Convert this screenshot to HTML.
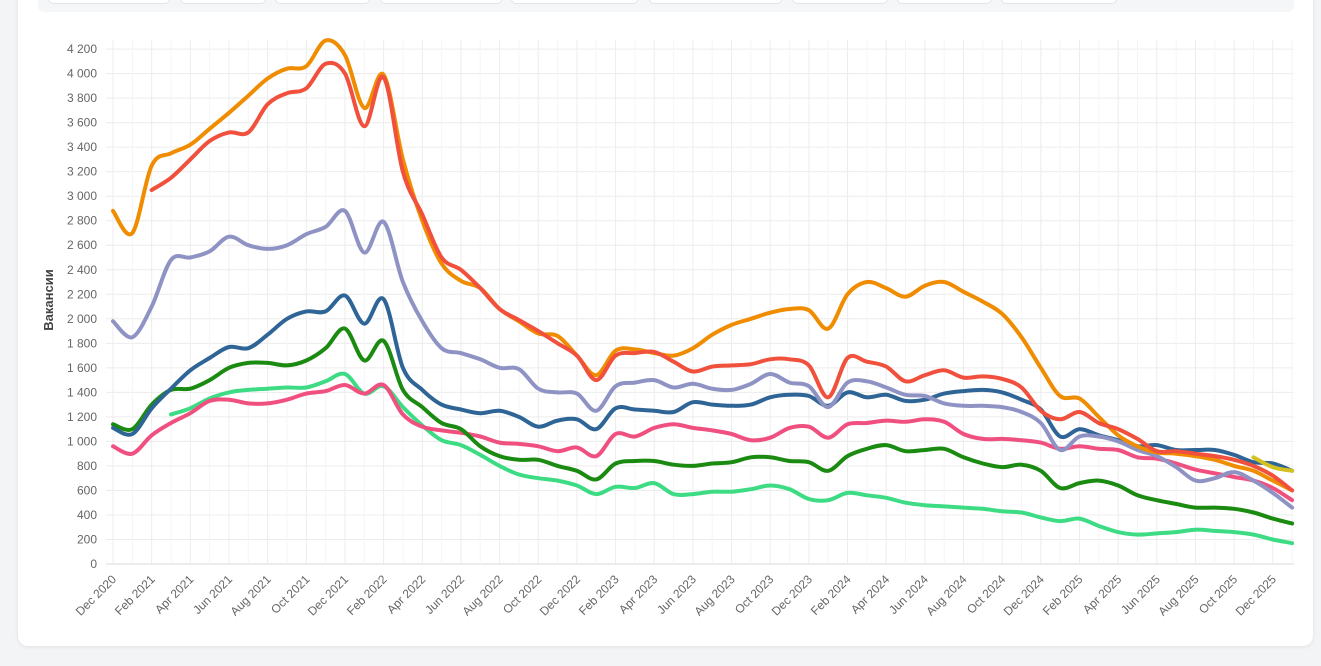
<!DOCTYPE html>
<html><head><meta charset="utf-8"><style>
body{margin:0;width:1321px;height:666px;background:#f3f4f6;font-family:"Liberation Sans",sans-serif;overflow:hidden;position:relative}
.card{position:absolute;left:18px;top:-20px;width:1295px;height:666px;background:#fff;border-radius:10px;box-shadow:0 1px 4px rgba(0,0,0,.08)}
.filters{position:absolute;left:38px;top:0;width:1256px;height:12px;background:#f5f6f8;border-radius:0 0 6px 6px}
.btn{position:absolute;top:-6px;height:8px;background:#fff;border:1px solid #e2e4e8;border-radius:5px}
svg{position:absolute;left:0;top:0}
</style></head><body>
<div class="card"></div>
<div class="filters">
<div class="btn" style="left:10px;width:120px"></div>
<div class="btn" style="left:142px;width:84px"></div>
<div class="btn" style="left:237px;width:93px"></div>
<div class="btn" style="left:342px;width:120px"></div>
<div class="btn" style="left:473px;width:125px"></div>
<div class="btn" style="left:611px;width:131px"></div>
<div class="btn" style="left:754px;width:94px"></div>
<div class="btn" style="left:859px;width:93px"></div>
<div class="btn" style="left:963px;width:114px"></div>
</div>
<svg id="chart" width="1321" height="666"></svg>
<script>
const months=["Dec 2020","Jan 2021","Feb 2021","Mar 2021","Apr 2021","May 2021","Jun 2021","Jul 2021","Aug 2021","Sep 2021","Oct 2021","Nov 2021","Dec 2021","Jan 2022","Feb 2022","Mar 2022","Apr 2022","May 2022","Jun 2022","Jul 2022","Aug 2022","Sep 2022","Oct 2022","Nov 2022","Dec 2022","Jan 2023","Feb 2023","Mar 2023","Apr 2023","May 2023","Jun 2023","Jul 2023","Aug 2023","Sep 2023","Oct 2023","Nov 2023","Dec 2023","Jan 2024","Feb 2024","Mar 2024","Apr 2024","May 2024","Jun 2024","Jul 2024","Aug 2024","Sep 2024","Oct 2024","Nov 2024","Dec 2024","Jan 2025","Feb 2025","Mar 2025","Apr 2025","May 2025","Jun 2025","Jul 2025","Aug 2025","Sep 2025","Oct 2025","Nov 2025","Dec 2025","Jan 2026"];
const yTicks=[0,200,400,600,800,1000,1200,1400,1600,1800,2000,2200,2400,2600,2800,3000,3200,3400,3600,3800,4000,4200];
const sOrange=[2880,2700,3250,3350,3420,3550,3680,3820,3960,4040,4060,4270,4150,3720,3990,3300,2800,2450,2310,2250,2080,1980,1880,1860,1700,1540,1740,1750,1720,1700,1760,1870,1950,2000,2050,2080,2070,1920,2200,2300,2250,2180,2270,2300,2220,2140,2040,1850,1600,1370,1350,1200,1050,960,910,900,880,850,800,760,680,600];
const sRed=[null,null,3050,3150,3300,3450,3520,3520,3750,3840,3880,4080,4000,3570,3970,3200,2850,2500,2400,2250,2080,1990,1900,1800,1700,1500,1700,1720,1730,1650,1570,1610,1620,1630,1670,1670,1620,1360,1680,1650,1610,1490,1540,1580,1520,1530,1510,1440,1250,1180,1240,1150,1100,1020,920,920,900,880,850,800,720,600];
const sLavender=[1980,1850,2100,2480,2500,2550,2670,2600,2570,2600,2690,2750,2880,2540,2790,2300,1980,1760,1720,1670,1600,1590,1430,1400,1390,1250,1450,1480,1500,1440,1470,1430,1420,1470,1550,1480,1450,1280,1480,1490,1440,1380,1370,1310,1290,1290,1280,1240,1150,930,1040,1040,1000,930,880,790,680,700,750,680,580,460];
const sBlue=[1110,1060,1270,1430,1580,1680,1770,1760,1870,2000,2060,2060,2190,1960,2160,1600,1420,1300,1260,1230,1250,1200,1120,1170,1180,1100,1270,1260,1250,1240,1320,1300,1290,1300,1360,1380,1370,1290,1400,1360,1380,1330,1340,1390,1410,1420,1400,1340,1260,1040,1100,1050,1010,960,970,930,930,930,890,830,820,760];
const sGreen=[1140,1100,1300,1420,1430,1500,1600,1640,1640,1620,1660,1760,1920,1660,1820,1420,1280,1150,1100,960,880,850,850,800,760,690,820,840,840,810,800,820,830,870,870,840,830,760,880,940,970,920,930,940,870,820,790,810,760,620,660,680,640,560,520,490,460,460,450,420,370,330];
const sPink=[960,900,1050,1150,1230,1330,1340,1310,1310,1340,1390,1410,1460,1390,1460,1220,1120,1090,1070,1040,990,980,960,920,950,880,1060,1040,1110,1140,1110,1090,1060,1010,1030,1110,1120,1030,1140,1150,1170,1160,1180,1160,1060,1020,1020,1010,990,940,960,940,930,870,860,820,770,740,710,680,620,520];
const sMint=[null,null,null,1220,1270,1350,1400,1420,1430,1440,1440,1490,1550,1390,1450,1280,1130,1010,970,890,800,730,700,680,640,570,630,620,660,570,570,590,590,610,640,610,530,520,580,560,540,500,480,470,460,450,430,420,380,350,370,310,260,240,250,260,280,270,260,240,200,170];
const sYellow=[null,null,null,null,null,null,null,null,null,null,null,null,null,null,null,null,null,null,null,null,null,null,null,null,null,null,null,null,null,null,null,null,null,null,null,null,null,null,null,null,null,null,null,null,null,null,null,null,null,null,null,null,null,null,null,null,null,null,null,870,790,760];
const series=[[sMint,"#3ddc84"],[sPink,"#f0507f"],[sGreen,"#1a8a10"],[sBlue,"#2e6496"],[sLavender,"#8f93c4"],[sOrange,"#ef8c00"],[sRed,"#f0503c"],[sYellow,"#d4c01e"]];
const NS="http://www.w3.org/2000/svg",svg=document.getElementById("chart");
const x0=113,dx=19.33,y0=564,yPer=24.52/200,pLeft=106,pRight=1294,pTop=40;
const X=i=>x0+dx*i, Y=v=>y0-v*yPer;
function el(t,a,p){const e=document.createElementNS(NS,t);for(const k in a)e.setAttribute(k,a[k]);(p||svg).appendChild(e);return e;}
const grid=el("g",{});


yTicks.forEach(v=>{
 el("line",{x1:pLeft,x2:pRight,y1:Y(v),y2:Y(v),stroke:v===0?"#d8d8d8":"#ececec","stroke-width":1},grid);
 const t=el("text",{x:97,y:Y(v)+4,"text-anchor":"end","font-size":12,fill:"#666"});
 t.textContent=v>=1000?String(v).replace(/(\d)(\d{3})$/,"$1 $2"):String(v);
 
 
});
months.forEach((m,i)=>{
 el("line",{x1:X(i),x2:X(i),y1:pTop,y2:y0,stroke:i%2===0?"#ececec":"#f5f5f5","stroke-width":1},grid);
 if(i%2===0){
  const t=el("text",{transform:`translate(${X(i)+4},${y0+16}) rotate(-45)`,"text-anchor":"end","font-size":12,fill:"#666"});
  t.textContent=m;
  
  
 }
});
const yl=el("text",{transform:"translate(53,300) rotate(-90)","text-anchor":"middle","font-size":13,"font-weight":"bold",fill:"#444"});
yl.textContent="Вакансии";


function path(pts){
 let d=`M${pts[0][0]},${pts[0][1]}`;
 for(let i=0;i<pts.length-1;i++){
  const p0=pts[i-1]||pts[i],p1=pts[i],p2=pts[i+1],p3=pts[i+2]||p2;
  const c1=[p1[0]+(p2[0]-p0[0])/6,p1[1]+(p2[1]-p0[1])/6],c2=[p2[0]-(p3[0]-p1[0])/6,p2[1]-(p3[1]-p1[1])/6];
  d+=`C${c1[0].toFixed(1)},${c1[1].toFixed(1)} ${c2[0].toFixed(1)},${c2[1].toFixed(1)} ${p2[0].toFixed(1)},${p2[1].toFixed(1)}`;
 }
 return d;
}
series.forEach(([data,color],k)=>{
 const pts=[];data.forEach((v,i)=>{if(v!=null)pts.push([Math.min(X(i),1293),Y(v)]);});
 const p=el("path",{d:path(pts),fill:"none",stroke:color,"stroke-width":4,"stroke-linejoin":"round","stroke-linecap":"round"});
 
 
});
</script>
</body></html>
